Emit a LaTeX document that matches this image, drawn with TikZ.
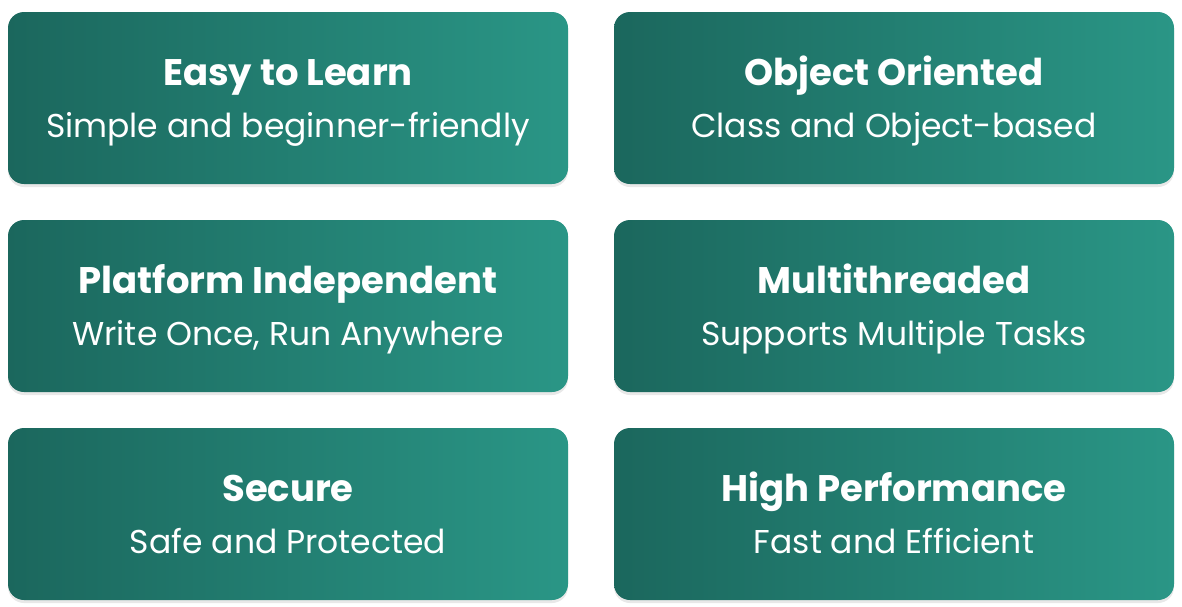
\documentclass[tikz,border=0pt]{standalone}
\usepackage{fontspec}
\setmainfont{Poppins}
\usetikzlibrary{shadows}
\definecolor{tealdark}{HTML}{1B675D}
\definecolor{teallight}{HTML}{2A9686}

\begin{document}
\begin{tikzpicture}
      [
        x=1pt, y=-1pt,
        feature/.style={rounded corners=16pt, minimum width=560pt, minimum height=172pt,
          left color=tealdark, right color=teallight, draw=none, text=white,
          align=center, inner sep=0pt,
          drop shadow={opacity=0.18, shadow xshift=0pt, shadow yshift=-3pt}},
        title/.style={font=\fontsize{37}{44}\selectfont\bfseries, anchor=base, text=white},
        sub/.style={font=\fontsize{33}{40}\selectfont, anchor=base, text=white}
      ]
      \useasboundingbox (0,0) rectangle (1182,606);
      % boxes
      \node [feature] (easy) at (288,98) {};
      \node [feature] (oop) at (894,98) {};
      \node [feature] (plat) at (288,306) {};
      \node [feature] (multi) at (894,306) {};
      \node [feature] (sec) at (288,514) {};
      \node [feature] (perf) at (894,514) {};
      % labels
      \foreach \b/\t/\s in {easy/Easy to Learn/Simple and beginner-friendly,
          oop/Object Oriented/Class and Object-based,
          plat/Platform Independent/{Write Once, Run Anywhere},
          multi/Multithreaded/Supports Multiple Tasks,
          sec/Secure/Safe and Protected,
          perf/High Performance/Fast and Efficient} {
          \node [title] (\b-t) at ([yshift=13pt]\b.center) {\t};
          \node [sub] (\b-s) at ([yshift=-39pt]\b.center) {\s};
      }
    \end{tikzpicture}
\end{document}
